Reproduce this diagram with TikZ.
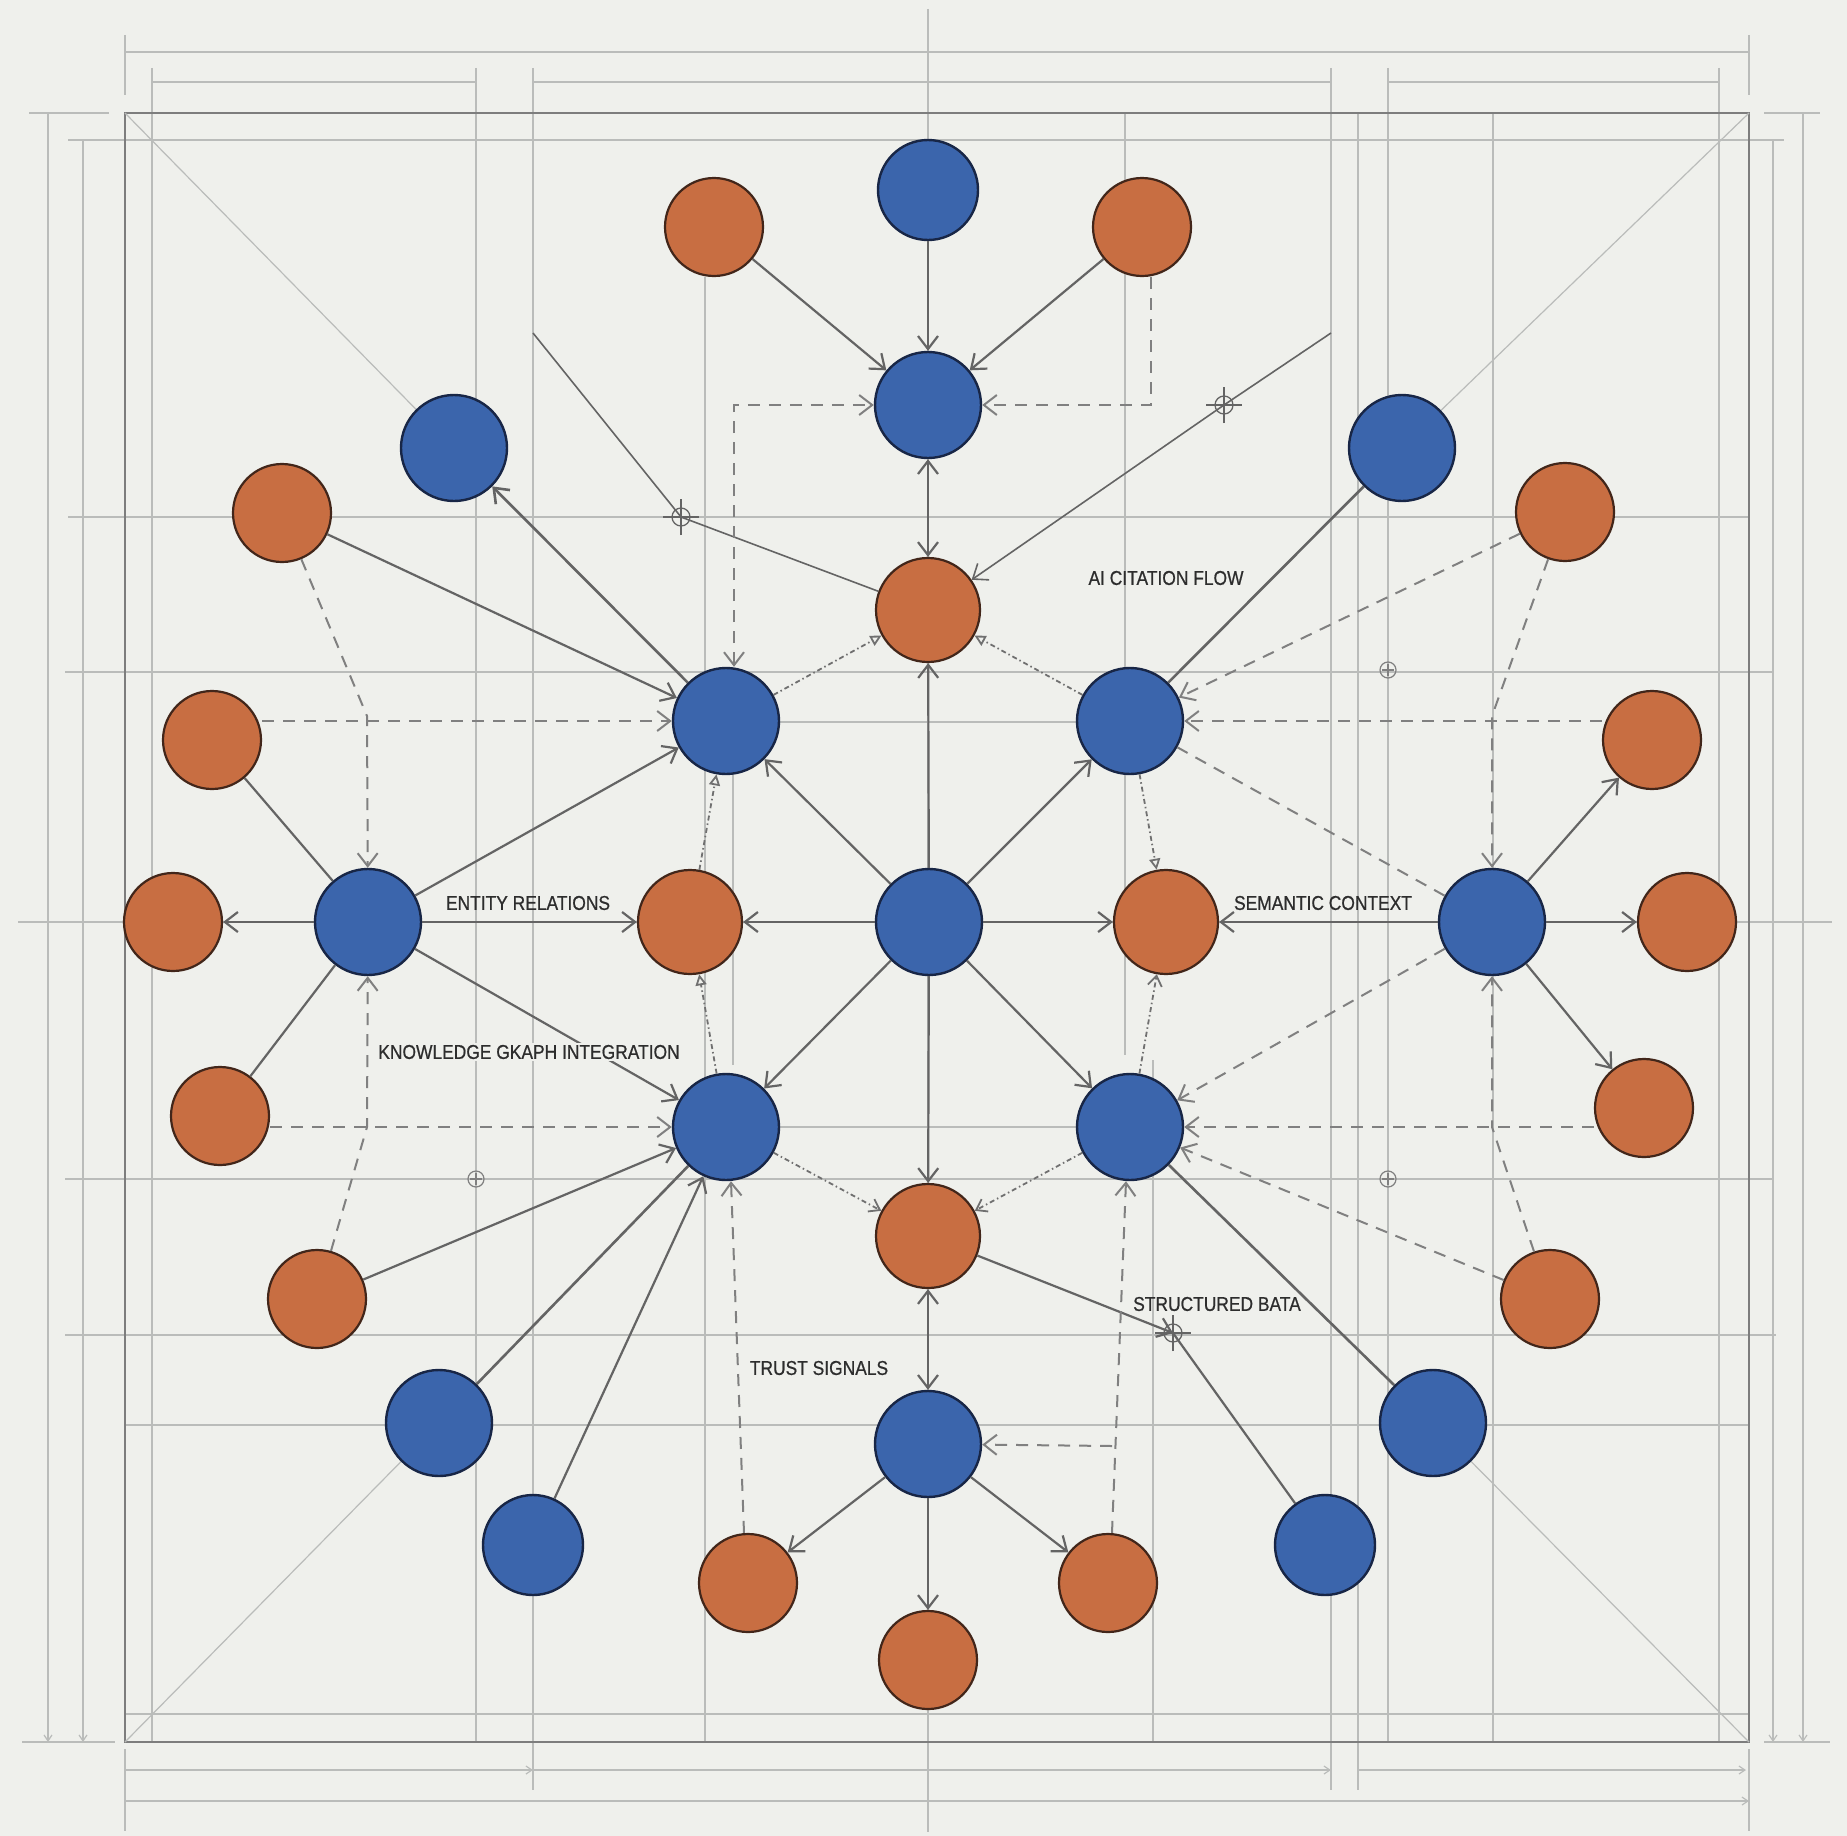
\documentclass[tikz,border=0pt]{standalone}
\usepackage{fontspec}
\newfontfamily\lblfont[FakeStretch=0.87,FakeBold=0.7]{Liberation Sans}
\usetikzlibrary{arrows.meta}
\definecolor{paper}{RGB}{239,240,236}
\definecolor{cblue}{RGB}{59,101,172}
\definecolor{cblueedge}{RGB}{24,38,70}
\definecolor{corange}{RGB}{200,110,66}
\definecolor{corangeedge}{RGB}{66,38,26}
\definecolor{cline}{RGB}{100,100,100}
\definecolor{cdash}{RGB}{128,128,128}
\definecolor{cdot}{RGB}{112,112,112}
\definecolor{cgrid}{RGB}{186,188,186}
\definecolor{cframe}{RGB}{125,125,125}
\definecolor{ctext}{RGB}{45,45,45}
\pgfdeclarelayer{back}
\pgfsetlayers{back,main}
\begin{document}
\begin{tikzpicture}[x=1pt,y=-1pt,
  bnode/.style={circle,fill=cblue,draw=cblueedge,line width=2.4pt,minimum size=106pt,inner sep=0pt},
  onode/.style={circle,fill=corange,draw=corangeedge,line width=2.2pt,minimum size=104pt,inner sep=0pt},
  onsm/.style={onode,minimum size=98pt},
  sol/.style={draw=cline,line width=2.2pt},
  arr/.style={-{Straight Barb[length=13pt,width=20pt]}},
  darr/.style={{Straight Barb[length=13pt,width=20pt]}-{Straight Barb[length=13pt,width=20pt]}},
  sarr/.style={-{Straight Barb[length=10pt,width=14pt]}},
  dsh/.style={draw=cdash,line width=2pt,dash pattern=on 12pt off 9pt},
  dotl/.style={draw=cdot,line width=1.8pt,dash pattern=on 5pt off 3pt on 1.5pt off 3pt},
  tri/.style={-{Triangle[open,length=11pt,width=11pt,fill=paper]}},
  gridl/.style={draw=cgrid,line width=1.2pt},
  dimarr/.style={-{Straight Barb[length=6pt,width=8pt]}},
  lbl/.style={font=\lblfont\fontsize{20}{24}\selectfont,text=ctext,inner sep=2pt}
]
\useasboundingbox (0,0) rectangle (1847,1836);

% ---------- nodes ----------
\node[bnode] (C) at (929,922) {};
\node[bnode,minimum size=100pt] (T1) at (928,190) {};
\node[bnode] (T2) at (928,405) {};
\node[onode] (T3) at (928,610) {};
\node[onsm] (TL) at (714,227) {};
\node[onsm] (TR) at (1142,227) {};
\node[bnode] (UL) at (726,721) {};
\node[bnode] (UR) at (1130,721) {};
\node[bnode] (LL) at (726,1127) {};
\node[bnode] (LR) at (1130,1127) {};
\node[onode] (OL) at (690,922) {};
\node[onode] (OR) at (1166,922) {};
\node[onode] (OB) at (928,1236) {};
\node[bnode] (L) at (368,922) {};
\node[bnode] (R) at (1492,922) {};
\node[bnode] (B) at (928,1444) {};
\node[onsm] (BB) at (928,1660) {};
\node[onsm] (BL) at (748,1583) {};
\node[onsm] (BR) at (1108,1583) {};
\node[bnode] (CBul) at (454,448) {};
\node[bnode] (CBur) at (1402,448) {};
\node[bnode] (CBll) at (439,1423) {};
\node[bnode] (CBlr) at (1433,1423) {};
\node[bnode,minimum size=100pt] (BBl) at (533,1545) {};
\node[bnode,minimum size=100pt] (BBr) at (1325,1545) {};
\node[onsm] (oL1) at (282,513) {};
\node[onsm] (oL2) at (212,740) {};
\node[onsm] (oL3) at (173,922) {};
\node[onsm] (oL4) at (220,1116) {};
\node[onsm] (oL5) at (317,1299) {};
\node[onsm] (oR1) at (1565,512) {};
\node[onsm] (oR2) at (1652,740) {};
\node[onsm] (oR3) at (1687,922) {};
\node[onsm] (oR4) at (1644,1108) {};
\node[onsm] (oR5) at (1550,1299) {};

\coordinate (cTL) at (125,113);
\coordinate (cTR) at (1749,113);
\coordinate (cBL) at (125,1742);
\coordinate (cBR) at (1749,1742);
\coordinate (xL) at (681,517);
\coordinate (xR) at (1224,405);
\coordinate (xSD) at (1173,1333);
\coordinate (fL) at (533,333);
\coordinate (fR) at (1331,333);
\coordinate (brj) at (1112,1446);

% ---------- blueprint grid ----------
\begin{pgfonlayer}{back}
\fill[paper] (0,0) rectangle (1847,1836);
% vertical lines
\draw[gridl,dimarr] (48,113) -- (48,1742);
\draw[gridl,dimarr] (83,140) -- (83,1742);
\draw[gridl] (152,68) -- (152,1742);
\draw[gridl] (476,68) -- (476,1742);
\draw[gridl] (533,68) -- (533,1790);
\draw[gridl] (705,277) -- (705,1742);
\draw[gridl] (733,705) -- (733,1065);
\draw[gridl] (928,9) -- (928,1832);
\draw[gridl] (1125,113) -- (1125,1055);
\draw[gridl] (1153,1060) -- (1153,1742);
\draw[gridl] (1331,68) -- (1331,1790);
\draw[gridl] (1358,113) -- (1358,1790);
\draw[gridl] (1388,68) -- (1388,1742);
\draw[gridl] (1493,113) -- (1493,1742);
\draw[gridl] (1719,68) -- (1719,1742);
\draw[gridl,dimarr] (1773,140) -- (1773,1742);
\draw[gridl,dimarr] (1803,113) -- (1803,1742);
\draw[gridl] (125,35) -- (125,95);
\draw[gridl] (1749,35) -- (1749,95);
\draw[gridl] (125,1749) -- (125,1831);
\draw[gridl] (1749,1749) -- (1749,1831);
% horizontal lines
\draw[gridl] (125,52) -- (1749,52);
\draw[gridl] (151,82) -- (476,82);
\draw[gridl] (533,82) -- (1331,82);
\draw[gridl] (1388,82) -- (1719,82);
\draw[gridl] (29,113) -- (109,113);
\draw[gridl] (1764,113) -- (1820,113);
\draw[gridl] (68,140) -- (1784,140);
\draw[gridl] (68,517) -- (1749,517);
\draw[gridl] (65,672) -- (1773,672);
\draw[gridl] (778,722) -- (1078,722);
\draw[gridl] (18,922) -- (1832,922);
\draw[gridl] (778,1127) -- (1078,1127);
\draw[gridl] (65,1179) -- (1773,1179);
\draw[gridl] (65,1335) -- (1776,1335);
\draw[gridl] (125,1425) -- (1749,1425);
\draw[gridl] (125,1714) -- (1749,1714);
\draw[gridl] (22,1742) -- (115,1742);
\draw[gridl] (1764,1742) -- (1830,1742);
\draw[gridl,dimarr] (125,1770) -- (533,1770);
\draw[gridl,dimarr] (533,1770) -- (1331,1770);
\draw[gridl,dimarr] (1358,1770) -- (1746,1770);
\draw[gridl,dimarr] (125,1801) -- (1749,1801);
% frame and diagonals
\draw[draw=cframe,line width=2.5pt] (cTL) rectangle (cBR);
\draw[gridl] (cTL) -- (CBul);
\draw[gridl] (cTR) -- (CBur);
\draw[gridl] (cBL) -- (CBll);
\draw[gridl] (cBR) -- (CBlr);
\end{pgfonlayer}

% ---------- solid connectors ----------
\draw[sol,arr] (T1) -- (T2);
\draw[sol,arr] (TL) -- (T2);
\draw[sol,arr] (TR) -- (T2);
\draw[sol,darr] (T2) -- (T3);
\draw[sol,arr] (C) -- (T3);
\foreach \n in {UL,UR,LL,LR,OL,OR,OB} \draw[sol,arr] (C) -- (\n);
\draw[sol,darr] (OB) -- (B);
\draw[sol,arr] (B) -- (BL);
\draw[sol,arr] (B) -- (BR);
\draw[sol,arr] (B) -- (BB);
\draw[sol,line width=2.6pt,arr] (UL) -- (CBul);
\draw[sol,arr] (oL1) -- (UL);
\draw[sol,arr] (L) -- (UL);
\draw[sol,arr] (L) -- (OL);
\draw[sol,arr] (L) -- (oL3);
\draw[sol] (oL2) -- (L);
\draw[sol] (oL4) -- (L);
\draw[sol,arr] (L) -- (LL);
\draw[sol,arr] (oL5) -- (LL);
\draw[sol,line width=2.6pt] (CBll) -- (LL);
\draw[sol,arr] (BBl) -- (LL);
\draw[sol,line width=2.6pt] (UR) -- (CBur);
\draw[sol,arr] (R) -- (OR);
\draw[sol,arr] (R) -- (oR2);
\draw[sol,arr] (R) -- (oR3);
\draw[sol,arr] (R) -- (oR4);
\draw[sol,line width=2.6pt] (LR) -- (CBlr);
\draw[sol,arr] (OB) -- (xSD);
\draw[sol] (BBr) -- (xSD);
\draw[sol,line width=1.6pt] (fL) -- (xL) -- (T3);
\draw[sol,line width=1.6pt,arr] (fR) -- (xR) -- (T3);

% ---------- dashed connectors ----------
\draw[dsh,arr] ([xshift=9pt]TR.south) |- (T2);
\draw[dsh,darr] ([xshift=8pt]UL.north) |- (T2);
\draw[dsh,arr] (oL1) -- (367,716) -- (L);
\draw[dsh,arr] (oL2.east |- UL.west) -- (UL.west);
\draw[dsh,arr] (oL4.east |- LL.west) -- (LL.west);
\draw[dsh,arr] (oL5) -- (367,1127) -- (L);
\draw[dsh,arr] ([xshift=-4pt]BL.north) -- ([xshift=5pt]LL.south);
\draw[dsh,arr] (oR1) -- (UR);
\draw[dsh,arr] (oR1) -- (1492,716) -- (R);
\draw[dsh,arr] (oR2.west |- UR.east) -- (UR.east);
\draw[dsh] (R) -- (UR);
\draw[dsh,arr] (R) -- (LR);
\draw[dsh,arr] (oR4.west |- LR.east) -- (LR.east);
\draw[dsh,arr] (oR5) -- (LR);
\draw[dsh,arr] (oR5) -- (1492,1127) -- (R);
\draw[dsh,arr] ([xshift=4pt]BR.north) -- ([xshift=-4pt]LR.south);
\draw[dsh,arr] (brj) -- (B);

% ---------- dotted connectors ----------
\draw[dotl,tri] (UL) -- (T3);
\draw[dotl,tri] (UR) -- (T3);
\draw[dotl,sarr] (LL) -- (OB);
\draw[dotl,sarr] (LR) -- (OB);
\draw[dotl,tri] (OL) -- (UL);
\draw[dotl,tri] (LL) -- (OL);
\draw[dotl,tri] (UR) -- (OR);
\draw[dotl,sarr] (LR) -- (OR);

% ---------- crosshair marks ----------
\foreach \p in {xL,xR,xSD} {
  \draw[cline,line width=1.3pt] (\p) circle[radius=9pt];
  \draw[cline,line width=1.3pt] ([xshift=-18pt]\p) -- ([xshift=18pt]\p);
  \draw[cline,line width=1.3pt] ([yshift=-18pt]\p) -- ([yshift=18pt]\p);
}
\foreach \q in {(1388,670),(476,1179),(1388,1179)} {
  \draw[cdash,line width=1.2pt] \q circle[radius=8pt];
  \draw[cdash,line width=1.2pt] \q ++(-6,0) -- ++(12,0);
  \draw[cdash,line width=1.2pt] \q ++(0,-6) -- ++(0,12);
}

% ---------- labels ----------
\node[lbl] (lAI) at (1166,578) {AI CITATION FLOW};
\node[lbl] (lER) at (528,903) {ENTITY RELATIONS};
\node[lbl] (lSC) at (1323,903) {SEMANTIC CONTEXT};
\node[lbl,fill=paper] (lKG) at (529,1052) {KNOWLEDGE GKAPH INTEGRATION};
\node[lbl] (lTS) at (819,1368) {TRUST SIGNALS};
\node[lbl] (lSD) at (1217,1304) {STRUCTURED BATA};
\end{tikzpicture}
\end{document}
